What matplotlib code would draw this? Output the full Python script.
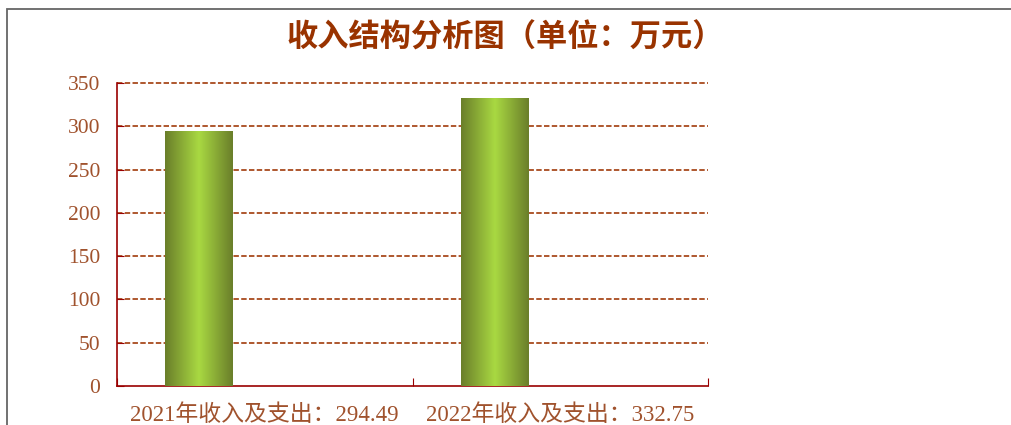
import matplotlib
matplotlib.use("Agg")
import matplotlib.pyplot as plt
import numpy as np
from matplotlib.patches import Rectangle
from matplotlib.colors import LinearSegmentedColormap

categories = ["2021年收入及支出：294.49", "2022年收入及支出：332.75"]
values = [294.49, 332.75]
yticks = [0, 50, 100, 150, 200, 250, 300, 350]
title = "收入结构分析图（单位：万元）"

fonts = ['Liberation Serif', 'Noto Sans CJK SC']
plt.rcParams['font.family'] = fonts

title_color = '#993300'
tick_color = '#A0522D'
spine_color = '#990000'
grid_color = '#A84A1E'

fig = plt.figure(figsize=(10.11, 4.25), dpi=100)
ax = fig.add_axes([117/1011, 39/425, 591/1011, 303/425])

x = np.arange(len(categories))
offset = -0.224
width = 0.227
bars = ax.bar(x + offset, values, width=width, color='none', edgecolor='none', zorder=3)

cmap = LinearSegmentedColormap.from_list('g', [(0.0, '#6A7E2A'), (0.5, '#A9D942'), (1.0, '#6A7E2A')])
grad = np.linspace(0, 1, 256).reshape(1, -1)
for b in bars:
    x0, w, h = b.get_x(), b.get_width(), b.get_height()
    im = ax.imshow(grad, cmap=cmap, extent=[x0, x0 + w, 0, h], aspect='auto', zorder=3,
                   interpolation='bicubic')
    im.set_clip_path(b)

ax.set_xlim(-0.5, len(categories) - 0.5)
ax.set_ylim(0, 350)

for s in ['top', 'right']:
    ax.spines[s].set_visible(False)
for s in ['left', 'bottom']:
    ax.spines[s].set_color(spine_color)
    ax.spines[s].set_linewidth(1.2)

ax.set_yticks(yticks)
ax.set_yticklabels([str(v) for v in yticks])
ax.tick_params(axis='y', direction='in', length=5, color=spine_color, labelcolor=tick_color,
               labelsize=15.5, pad=12)
ax.set_xticks(np.arange(len(categories) + 1) - 0.5)
ax.set_xticklabels([])
ax.tick_params(axis='x', which='major', direction='in', length=6, color=spine_color)
ax.set_xticks(x, minor=True)
ax.set_xticklabels(categories, minor=True)
ax.tick_params(axis='x', which='minor', length=0, labelcolor=tick_color, labelsize=16.5, pad=13)

for v in yticks[1:]:
    ax.axhline(v, color=grid_color, lw=1.3, dashes=(3, 1.3), zorder=1, clip_on=False)

fig.text(0.5, 1 - 38/425, title, ha='center', va='center', fontsize=22.5,
         fontweight='bold', color=title_color, family=['Noto Sans CJK SC'])

fig.patches.append(Rectangle((7/1011, -0.1), 1.2, 1 - 9/425 + 0.1, transform=fig.transFigure,
                             fill=False, edgecolor='#666666', lw=1.3))

fig.savefig('out.png', dpi=100)
